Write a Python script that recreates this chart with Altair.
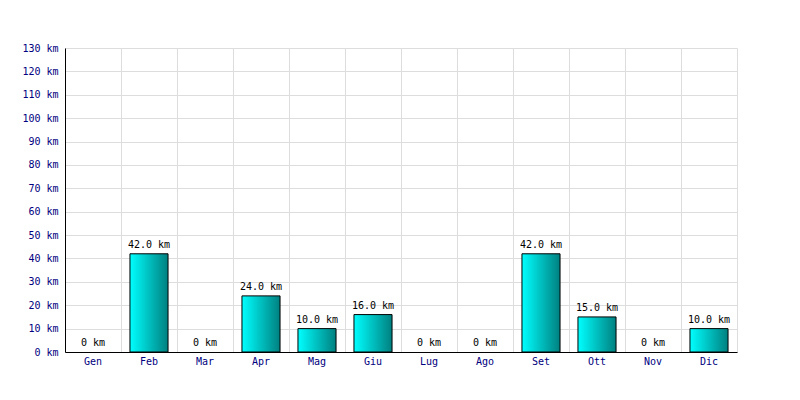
import altair as alt
import pandas as pd

months = ["Gen", "Feb", "Mar", "Apr", "Mag", "Giu", "Lug", "Ago", "Set", "Ott", "Nov", "Dic"]
km = [0, 42, 0, 24, 10, 16, 0, 0, 42, 15, 0, 10]
labels = ["0 km" if v == 0 else f"{v:.1f} km" for v in km]
y_ticks = [0, 10, 20, 30, 40, 50, 60, 70, 80, 90, 100, 110, 120, 130]

df = pd.DataFrame({"month": months, "km": km, "label": labels})

FONT = "DejaVu Sans Mono"

x = alt.X("month:N", sort=months, title=None,
          scale=alt.Scale(paddingInner=0, paddingOuter=0),
          axis=alt.Axis(labelAngle=0, labelColor="#000080", labelFont=FONT, labelFontSize=10,
                        ticks=False, domainColor="#000000", grid=True, gridColor="#dddddd",
                        bandPosition=0, labelPadding=4, labelOverlap=False))
y = alt.Y("km:Q", title=None,
          scale=alt.Scale(domain=[0, 130], nice=False),
          axis=alt.Axis(values=y_ticks, labelExpr="datum.value + ' km'",
                        labelColor="#000080", labelFont=FONT, labelFontSize=10,
                        ticks=False, domainColor="#000000", gridColor="#dddddd",
                        labelPadding=7, labelOverlap=False))

grad = alt.LinearGradient(gradient="linear",
                          stops=[alt.GradientStop(color="#00ffff", offset=0),
                                 alt.GradientStop(color="#008080", offset=1)],
                          x1=0, x2=1, y1=0, y2=0)

bars = alt.Chart(df).transform_filter("datum.km > 0").mark_bar(
    width=alt.RelativeBandSize(0.68), color=grad, stroke="#000000", strokeWidth=1
).encode(x=x, y=y)

text = alt.Chart(df).mark_text(font=FONT, fontSize=10, color="#000000",
                               baseline="alphabetic", dy=-6).encode(
    x=x, y=y, text="label:N")

chart = (bars + text).properties(
    width=672, height=304,
    autosize=alt.AutoSizeParams(type="none"),
    padding={"left": 57, "top": 40, "right": 55, "bottom": 40},
).configure_view(stroke="#dddddd")

chart.save("out.html", embed_options={"renderer": "svg", "actions": False})
